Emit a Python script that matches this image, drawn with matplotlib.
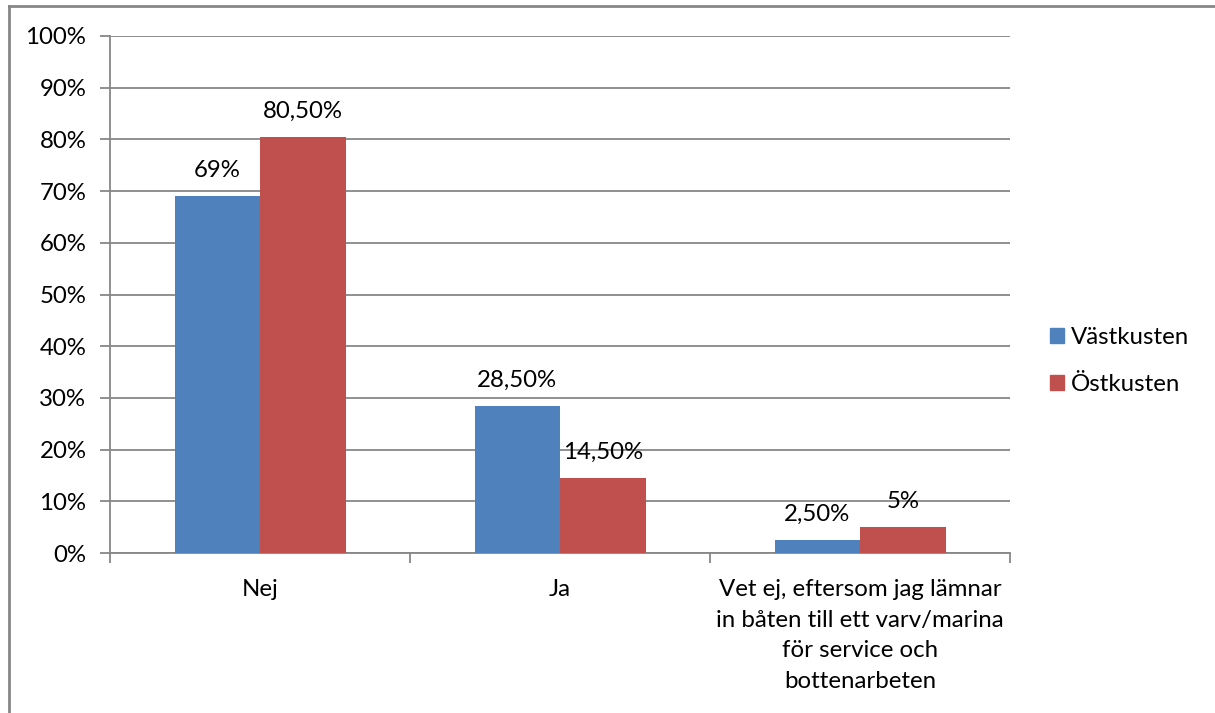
import numpy as np
import matplotlib.pyplot as plt
from matplotlib.lines import Line2D
from matplotlib.patches import Patch

categories = ['Nej', 'Ja',
              'Vet ej, eftersom jag lämnar\nin båten till ett varv/marina\nför service och\nbottenarbeten']
series_names = ['Västkusten', 'Östkusten']
vastkusten = [69.0, 28.5, 2.5]
ostkusten = [80.5, 14.5, 5.0]
labels_vast = ['69%', '28,50%', '2,50%']
labels_ost = ['80,50%', '14,50%', '5%']
colors = ['#4F81BD', '#C0504D']
grid_gray = '#878787'

plt.rcParams['font.family'] = ['Lato', 'DejaVu Sans']
fs = 17.3

fig = plt.figure(figsize=(12.15, 7.13), dpi=100)
ax = fig.add_axes([110 / 1215, 1 - 553 / 713, 900 / 1215, 517 / 713])

x = np.arange(len(categories))
width = 0.285
bars_v = ax.bar(x - width / 2, vastkusten, width, color=colors[0], zorder=3)
bars_o = ax.bar(x + width / 2, ostkusten, width, color=colors[1], zorder=3)

for bars, labs in [(bars_v, labels_vast), (bars_o, labels_ost)]:
    for b, lab in zip(bars, labs):
        ax.annotate(lab, (b.get_x() + b.get_width() / 2, b.get_height()),
                    xytext=(0, 11), textcoords='offset points',
                    ha='center', va='bottom', fontsize=fs, zorder=4)

ax.set_xlim(-0.5, len(categories) - 0.5)
ax.set_ylim(0, 100)
ax.set_yticks(np.arange(0, 101, 10))
ax.set_yticklabels([f'{v}%' for v in range(0, 101, 10)], fontsize=fs)
ax.yaxis.grid(True, color=grid_gray, linewidth=1.3, zorder=0)

ax.set_xticks(x)
ax.set_xticklabels(categories, fontsize=fs, linespacing=1.56, va='top')
ax.tick_params(axis='x', which='major', length=0, pad=19)
ax.set_xticks(np.arange(-0.5, len(categories)), minor=True)
ax.tick_params(axis='x', which='minor', length=7, color=grid_gray, width=1.3)
ax.tick_params(axis='y', length=7, color=grid_gray, width=1.3, pad=10)

for s in ['top', 'right']:
    ax.spines[s].set_visible(False)
for s in ['left', 'bottom']:
    ax.spines[s].set_color(grid_gray)
    ax.spines[s].set_linewidth(1.3)

handles = [Patch(color=c) for c in colors]
fig.legend(handles, series_names, loc='center left',
           bbox_to_anchor=(1028 / 1215, 1 - 361 / 713), frameon=False,
           fontsize=fs, handlelength=0.6, handleheight=0.6,
           handletextpad=0.3, labelspacing=1.1)

# chart frame (only left and top edges visible)
fig.add_artist(Line2D([9 / 1215, 9 / 1215], [0, 1 - 6 / 713],
                      color=grid_gray, linewidth=2, transform=fig.transFigure))
fig.add_artist(Line2D([9 / 1215, 1], [1 - 6 / 713, 1 - 6 / 713],
                      color=grid_gray, linewidth=2, transform=fig.transFigure))

fig.savefig('out.png', dpi=100)
